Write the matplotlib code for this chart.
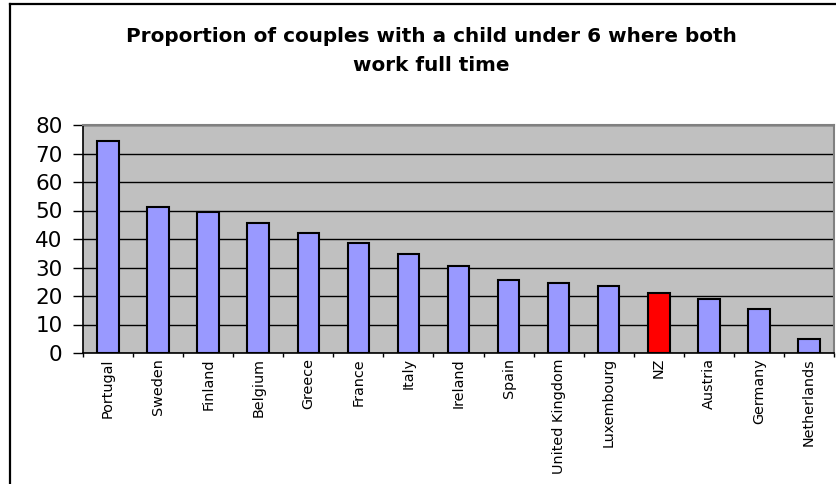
import matplotlib
matplotlib.use('Agg')
from matplotlib import pyplot as plt
from matplotlib.lines import Line2D


countries = ['Portugal', 'Sweden', 'Finland', 'Belgium', 'Greece', 'France',
             'Italy', 'Ireland', 'Spain', 'United Kingdom', 'Luxembourg',
             'NZ', 'Austria', 'Germany', 'Netherlands']
values = [74.5, 51.2, 49.3, 45.7, 42.2, 38.7, 34.7, 30.7, 25.6, 24.7,
          23.6, 21.2, 19.1, 15.5, 4.9]
highlight = 'NZ'

TITLE_LINES = ['Proportion of couples with a child under 6 where both',
               'work full time']

W, H = 836, 484


def main():
	plt.rcParams['font.family'] = ['DejaVu Sans']

	fig = plt.figure(figsize=(W / 100, H / 100), dpi=100)
	ax = fig.add_axes([83 / W, 1 - 353 / H, 751 / W, 228 / H])

	colours = ['#FF0000' if c == highlight else '#9999FF' for c in countries]
	x = range(len(countries))
	ax.bar(x, values, width=0.43, color=colours, edgecolor='black',
	       linewidth=1.5, zorder=3)

	ax.set_facecolor('#C0C0C0')
	ax.set_xlim(-0.5, len(countries) - 0.5)
	ax.set_ylim(0, 80)
	ax.set_yticks(range(0, 81, 10))
	ax.tick_params(axis='y', labelsize=15.5, length=7.2, width=1, pad=7.5)
	ax.yaxis.grid(True, color='black', linewidth=1, zorder=1)

	# category labels in the middle, tick marks between categories
	ax.set_xticks(list(x))
	ax.set_xticklabels(countries, rotation=90, fontsize=10.4)
	ax.tick_params(axis='x', length=0, pad=3.6)
	ax.set_xticks([i + 0.5 for i in range(-1, len(countries))], minor=True)
	ax.tick_params(axis='x', which='minor', length=3, width=1)

	for side in ['top', 'right']:
		ax.spines[side].set_color('#808080')
		ax.spines[side].set_linewidth(1.5)
	for side in ['left', 'bottom']:
		ax.spines[side].set_color('black')
		ax.spines[side].set_linewidth(1.2)

	for line, base in zip(TITLE_LINES, [42, 71]):
		fig.text(431 / W, 1 - base / H, line, ha='center', va='baseline',
		         fontsize=14.4, fontweight='bold')

	# chart frame (left and top edges fall inside the image)
	fig.add_artist(Line2D([10 / W, 10 / W], [0, 1 - 4 / H],
	                      transform=fig.transFigure, color='black', linewidth=1.6))
	fig.add_artist(Line2D([10 / W, 1], [1 - 4 / H, 1 - 4 / H],
	                      transform=fig.transFigure, color='black', linewidth=1.6))

	fig.savefig('out.png', dpi=100)


main()
